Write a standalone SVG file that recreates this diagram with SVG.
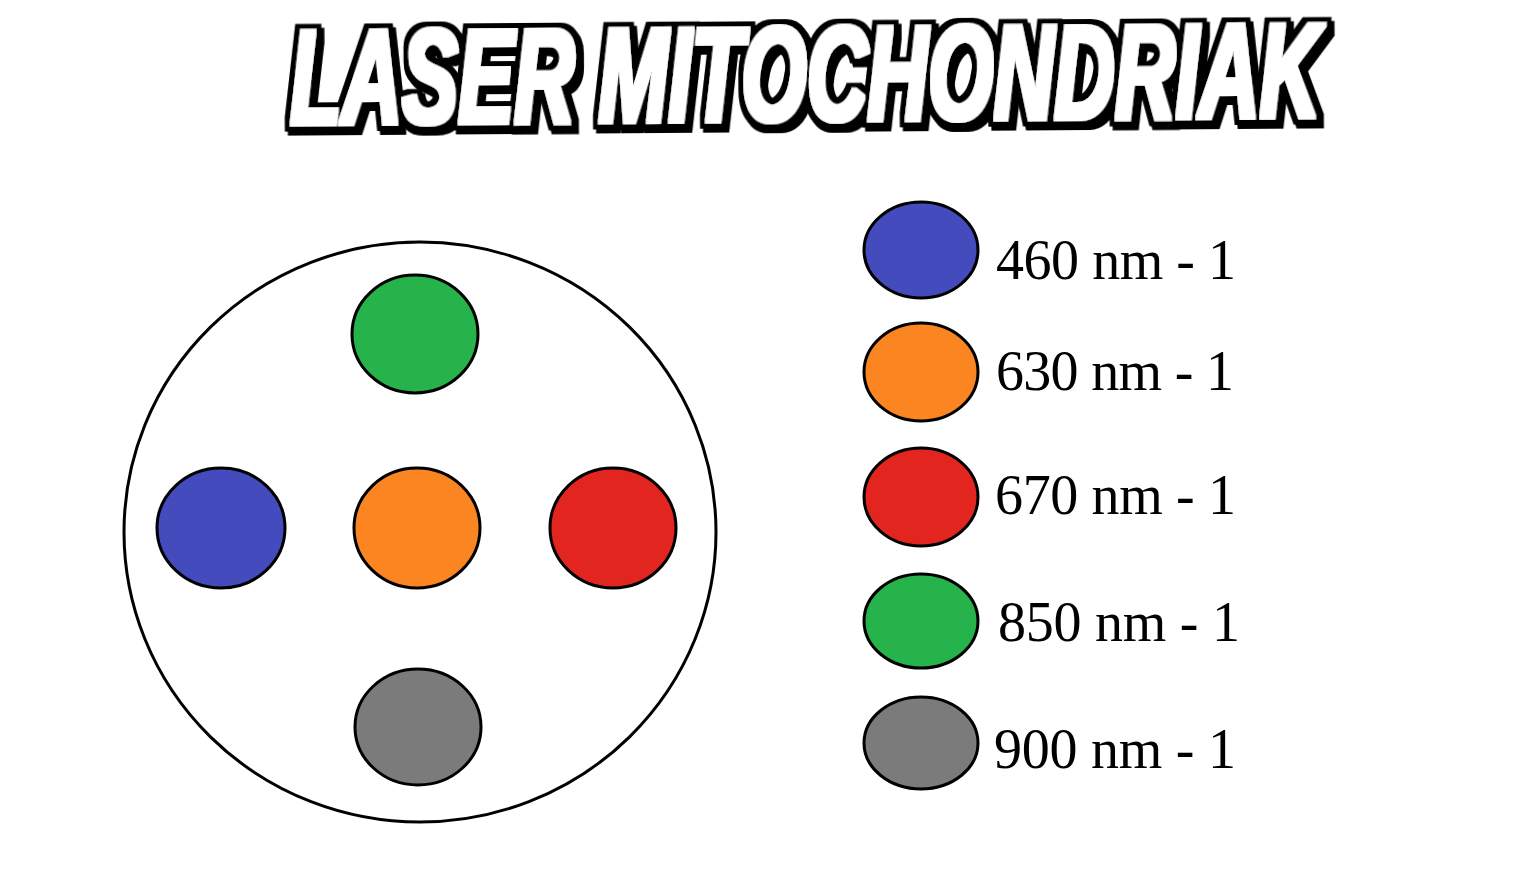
<svg xmlns="http://www.w3.org/2000/svg" width="1536" height="892" viewBox="0 0 1536 892">
<style>
.title{font-family:"Liberation Sans",Arial,sans-serif;font-weight:bold;font-style:italic;font-size:136px;fill:#fff}
.dot{stroke:#000;stroke-width:3}
.lbl{font-family:"Liberation Serif","Times New Roman",serif;font-size:56px;fill:#000}
.blue{fill:#444bbd}
.orange{fill:#fb8521}
.red{fill:#e2251f}
.green{fill:#27b34b}
.gray{fill:#7b7b7b}
</style>
<defs>
<filter id="comic" x="-5%" y="-30%" width="110%" height="160%">
<feMorphology in="SourceAlpha" operator="dilate" radius="2.6 1.6" result="fat"/>
<feFlood flood-color="#fff" result="w"/>
<feComposite in="w" in2="fat" operator="in" result="whiteFat"/>
<feMorphology in="SourceAlpha" operator="dilate" radius="11.3 7" result="outline"/>
<feOffset in="outline" dx="4.9" dy="4" result="shadow"/>
<feMerge>
<feMergeNode in="shadow"/>
<feMergeNode in="outline"/>
<feMergeNode in="whiteFat"/>
</feMerge>
</filter>
</defs>
<rect width="1536" height="892" fill="#fff"/>
<g id="title" transform="rotate(-0.4 806 75) translate(290 121) scale(0.618 1)">
<text class="title" filter="url(#comic)" x="0" y="0">LASER MITOCHONDRIAK</text>
</g>
<g id="disc">
<ellipse cx="420" cy="532" rx="296" ry="290" fill="#fff" stroke="#000" stroke-width="3"/>
</g>
<g id="disc-green"><ellipse class="dot green" cx="415" cy="334" rx="63" ry="59"/></g>
<g id="disc-blue"><ellipse class="dot blue" cx="221" cy="528" rx="64" ry="60"/></g>
<g id="disc-orange"><ellipse class="dot orange" cx="417" cy="528" rx="63" ry="60"/></g>
<g id="disc-red"><ellipse class="dot red" cx="613" cy="528" rx="63" ry="60"/></g>
<g id="disc-gray"><ellipse class="dot gray" cx="418" cy="727" rx="63" ry="58"/></g>
<g id="legend-460">
<ellipse class="dot blue" cx="921" cy="250" rx="57" ry="48"/>
<text class="lbl" x="996" y="279" textLength="240" lengthAdjust="spacing">460 nm - 1</text>
</g>
<g id="legend-630">
<ellipse class="dot orange" cx="921" cy="372" rx="57" ry="49"/>
<text class="lbl" x="996" y="390" textLength="238" lengthAdjust="spacing">630 nm - 1</text>
</g>
<g id="legend-670">
<ellipse class="dot red" cx="921" cy="497" rx="57" ry="49"/>
<text class="lbl" x="995" y="514" textLength="241" lengthAdjust="spacing">670 nm - 1</text>
</g>
<g id="legend-850">
<ellipse class="dot green" cx="921" cy="621" rx="57" ry="47"/>
<text class="lbl" x="998" y="641" textLength="242" lengthAdjust="spacing">850 nm - 1</text>
</g>
<g id="legend-900">
<ellipse class="dot gray" cx="921" cy="743" rx="57" ry="46"/>
<text class="lbl" x="994" y="768" textLength="242" lengthAdjust="spacing">900 nm - 1</text>
</g>
<g id="connectors"/>
</svg>
